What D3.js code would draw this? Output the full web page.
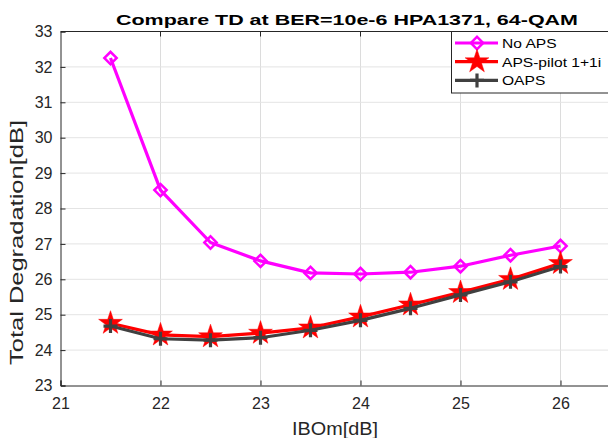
<!DOCTYPE html>
<html>
<head>
<meta charset="utf-8">
<script src="https://cdn.jsdelivr.net/npm/d3@7"></script>
<style>
  html, body { margin: 0; padding: 0; background: #fff; }
  svg { display: block; }
  text { font-family: "Liberation Sans", Arial, sans-serif; }
</style>
</head>
<body>
<svg id="chart" width="608" height="438"></svg>
<script>
// IBO values (dB)
const ibo = [21.5, 22, 22.5, 23, 23.5, 24, 24.5, 25, 25.5, 26];
// Total degradation (dB) for each scheme
const noAps   = [32.25, 28.52, 27.04, 26.52, 26.18, 26.15, 26.2, 26.37, 26.68, 26.94];
const apsPilot = [24.76, 24.43, 24.38, 24.48, 24.63, 24.94, 25.28, 25.63, 26.0, 26.45];
const oaps    = [24.68, 24.32, 24.28, 24.35, 24.56, 24.84, 25.18, 25.56, 25.93, 26.36];
const seriesNames = ["No APS", "APS-pilot 1+1i", "OAPS"];
const xTicks = [21, 22, 23, 24, 25, 26];
const yTicks = [23, 24, 25, 26, 27, 28, 29, 30, 31, 32, 33];

const svg = d3.select("#chart");
const pL = 60.5, pR = 610.5, pT = 31.5, pB = 385.5;

const x = d3.scaleLinear().domain([21, 26.5]).range([pL, pR]);
const y = d3.scaleLinear().domain([23, 33]).range([pB, pT]);

// grid
const grid = svg.append("g");
grid.selectAll(".gx").data(xTicks.slice(1)).join("line")
  .attr("x1", d => x(d)).attr("x2", d => x(d))
  .attr("y1", pT).attr("y2", pB)
  .attr("stroke", "#dcdcdc").attr("stroke-width", 1);
grid.selectAll(".gy").data(yTicks.slice(1, -1)).join("line")
  .attr("x1", pL).attr("x2", pR)
  .attr("y1", d => y(d)).attr("y2", d => y(d))
  .attr("stroke", "#e4e4e4").attr("stroke-width", 1);

// axes
const xAxis = d3.axisBottom(x).tickValues(xTicks).tickFormat(d3.format("d")).tickSize(-5).tickPadding(12);
const yAxis = d3.axisLeft(y).tickValues(yTicks).tickFormat(d3.format("d")).tickSize(-5).tickPadding(8);

const gx = svg.append("g").attr("transform", `translate(0,${pB})`).call(xAxis);
const gy = svg.append("g").attr("transform", `translate(${pL},0)`).call(yAxis);
[gx, gy].forEach(g => {
  g.select(".domain").attr("stroke", "#262626").attr("stroke-width", 1);
  g.selectAll(".tick line").attr("stroke", "#262626");
  g.selectAll(".tick text").attr("fill", "#262626").attr("font-size", 16)
    .attr("font-family", "Liberation Sans, Arial, sans-serif");
});
// top border
svg.append("line").attr("x1", pL).attr("x2", pR).attr("y1", pT).attr("y2", pT)
  .attr("stroke", "#262626");
// top ticks
svg.selectAll(".tt").data(xTicks.slice(1)).join("line")
  .attr("x1", d => x(d)).attr("x2", d => x(d)).attr("y1", pT).attr("y2", pT + 5)
  .attr("stroke", "#262626");

// labels
svg.append("text").attr("x", 116).attr("y", 24.5)
  .attr("font-size", 15.5).attr("font-weight", "bold").attr("fill", "#000")
  .attr("textLength", 462).attr("lengthAdjust", "spacingAndGlyphs")
  .text("Compare TD at BER=10e-6 HPA1371, 64-QAM");
svg.append("text").attr("x", 292).attr("y", 435)
  .attr("font-size", 18.5).attr("fill", "#262626")
  .attr("textLength", 86).attr("lengthAdjust", "spacingAndGlyphs").text("IBOm[dB]");
svg.append("text").attr("transform", `translate(23,365) rotate(-90)`)
  .attr("font-size", 17.5).attr("fill", "#262626")
  .attr("textLength", 245).attr("lengthAdjust", "spacingAndGlyphs")
  .text("Total Degradation[dB]");

const line = d3.line().x(d => x(d[0])).y(d => y(d[1]));

const diamond = d3.symbol().type(d3.symbolSquare).size(76);
const star = d3.symbol().type(d3.symbolStar).size(175);

function markerShape(g, kind, color) {
  if (kind === "diamond") {
    g.append("path").attr("d", diamond()).attr("transform", "rotate(45)")
      .attr("fill", "none").attr("stroke", color).attr("stroke-width", 2.5);
  } else if (kind === "star") {
    g.append("path").attr("d", star()).attr("fill", color).attr("stroke", color).attr("stroke-width", 0.5);
  } else {
    g.append("path").attr("d", "M-7,0H7M0,-7V7").attr("stroke", color).attr("stroke-width", 3.2).attr("fill", "none");
  }
}

const series = [
  { name: seriesNames[0], vals: noAps, color: "#ff00ff", kind: "diamond" },
  { name: seriesNames[1], vals: apsPilot, color: "#ff0000", kind: "star" },
  { name: seriesNames[2], vals: oaps, color: "#404040", kind: "cross" }
];

series.forEach(s => {
  const pts = ibo.map((v, i) => [v, s.vals[i]]);
  const g = svg.append("g");
  g.append("path").datum(pts).attr("d", line)
    .attr("fill", "none").attr("stroke", s.color).attr("stroke-width", 3.2)
    .attr("stroke-linejoin", "round");
  pts.forEach(p => {
    const m = g.append("g").attr("transform", `translate(${x(p[0])},${y(p[1])})`);
    markerShape(m, s.kind, s.color);
  });
});

// legend
const lg = svg.append("g");
lg.append("rect").attr("x", 451.5).attr("y", 31.5).attr("width", 170).attr("height", 61.5)
  .attr("fill", "#fff").attr("stroke", "#262626").attr("stroke-width", 1);
series.forEach((s, i) => {
  const cy = 43 + i * 18.7;
  lg.append("line").attr("x1", 455).attr("x2", 498).attr("y1", cy).attr("y2", cy)
    .attr("stroke", s.color).attr("stroke-width", 3.2);
  const m = lg.append("g").attr("transform", `translate(477,${cy})`);
  markerShape(m, s.kind, s.color);
  lg.append("text").attr("transform", `translate(502,${cy + 5}) scale(1.2,1)`)
    .attr("font-size", 13).attr("fill", "#000").text(s.name);
});
</script>
</body>
</html>
